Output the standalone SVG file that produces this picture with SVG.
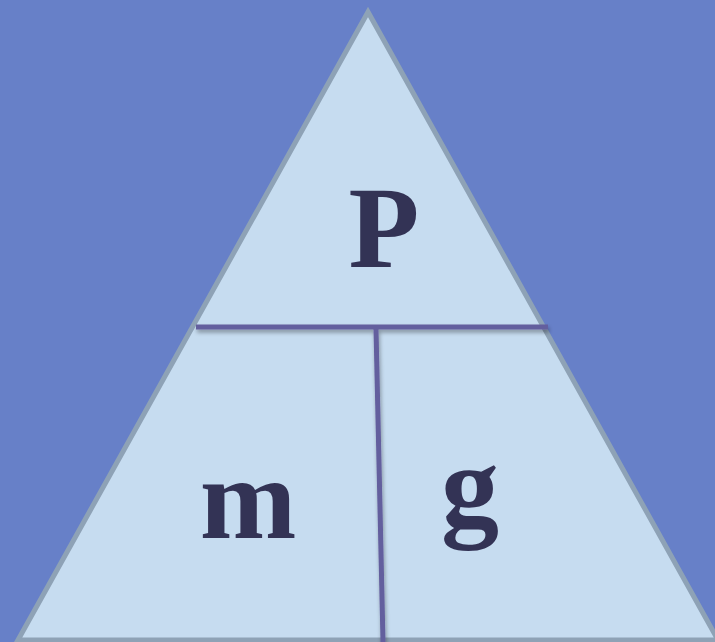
<svg xmlns="http://www.w3.org/2000/svg" width="715" height="642" viewBox="0 0 715 642">
<defs>
<style>
.div{stroke:#635f9e;stroke-width:5;fill:none}
</style>
<filter id="sh" x="-10%" y="-50%" width="120%" height="200%">
<feGaussianBlur in="SourceAlpha" stdDeviation="2"/>
<feOffset dx="1" dy="3"/>
<feComponentTransfer><feFuncA type="linear" slope="0.35"/></feComponentTransfer>
<feMerge><feMergeNode/><feMergeNode in="SourceGraphic"/></feMerge>
</filter>
</defs>
<rect width="715" height="642" fill="#6780c8"/>
<g id="triangle">
<polygon points="368,12 18,640 718,640" fill="#c6dcf0" stroke="#8ea2b6" stroke-width="5" stroke-linejoin="miter"/>
</g>
<g id="connectors" filter="url(#sh)">
<line class="div" x1="196" y1="327" x2="548" y2="327"/>
<line class="div" x1="376" y1="329" x2="383" y2="642"/>
</g>
<g font-family="Liberation Serif, serif" font-weight="700" fill="#333355" text-anchor="middle">
<g id="node-P"><text x="384" y="267" font-size="116">P</text></g>
<g id="node-m"><text x="248" y="538" font-size="116">m</text></g>
<g id="node-g"><text x="470" y="525" font-size="116">g</text></g>
</g>
</svg>
